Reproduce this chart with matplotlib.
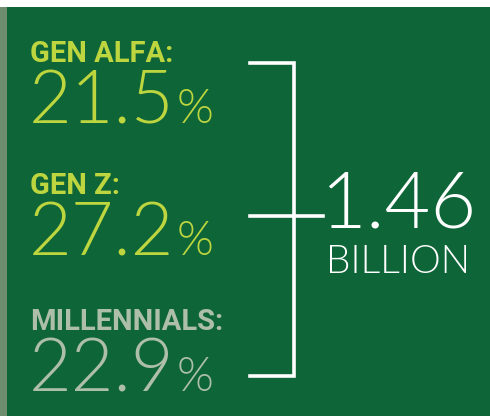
import matplotlib.pyplot as plt

# generation shares and total
labels = ['GEN ALFA:', 'GEN Z:', 'MILLENNIALS:']
values = [21.5, 27.2, 22.9]
colors = ['#bdd63f', '#bdd63f', '#aebfa9']
total = 1.46
total_unit = 'BILLION'

bg = '#0e6537'

fig = plt.figure(figsize=(4.9, 4.16), dpi=100)
fig.patch.set_facecolor('white')
ax = fig.add_axes([0, 0, 1, 1])
ax.set_xlim(0, 490)
ax.set_ylim(416, 0)
ax.axis('off')

# background panel and left strip
ax.add_patch(plt.Rectangle((0, 7), 490, 409, color=bg, lw=0))
ax.add_patch(plt.Rectangle((0, 7), 7, 409, color='#6e8e6f', lw=0))

label_y = [62, 194, 330]
for i, (lab, v, c) in enumerate(zip(labels, values, colors)):
    y = label_y[i]
    ax.text(30, y, lab, color=c, fontsize=21, fontweight='bold',
            family='Roboto', va='baseline', ha='left')
    t = ax.text(29, y + 61, f'{v:.1f}', color=c, fontsize=53,
                family='Lato', fontweight=300, va='baseline', ha='left')
    fig.canvas.draw()
    bb = t.get_window_extent()
    x_end = ax.transData.inverted().transform((bb.x1, bb.y0))[0]
    ax.text(x_end + 2, y + 61, '%', color=c, fontsize=34,
            family='Lato', fontweight=300, va='baseline', ha='left')

# bracket
lw = 2.6
ax.plot([250, 294, 294, 250], [63, 63, 376, 376], color='white', lw=lw,
        solid_joinstyle='miter')
ax.plot([250, 323], [216, 216], color='white', lw=lw)

ax.text(321, 228, f'{total:.2f}', color='white', fontsize=57,
        family='Lato', fontweight=300, va='baseline', ha='left')
ax.text(326, 273, total_unit, color='white', fontsize=28,
        family='Lato', fontweight=300, va='baseline', ha='left')

fig.savefig('out.png', dpi=100, facecolor='white')
